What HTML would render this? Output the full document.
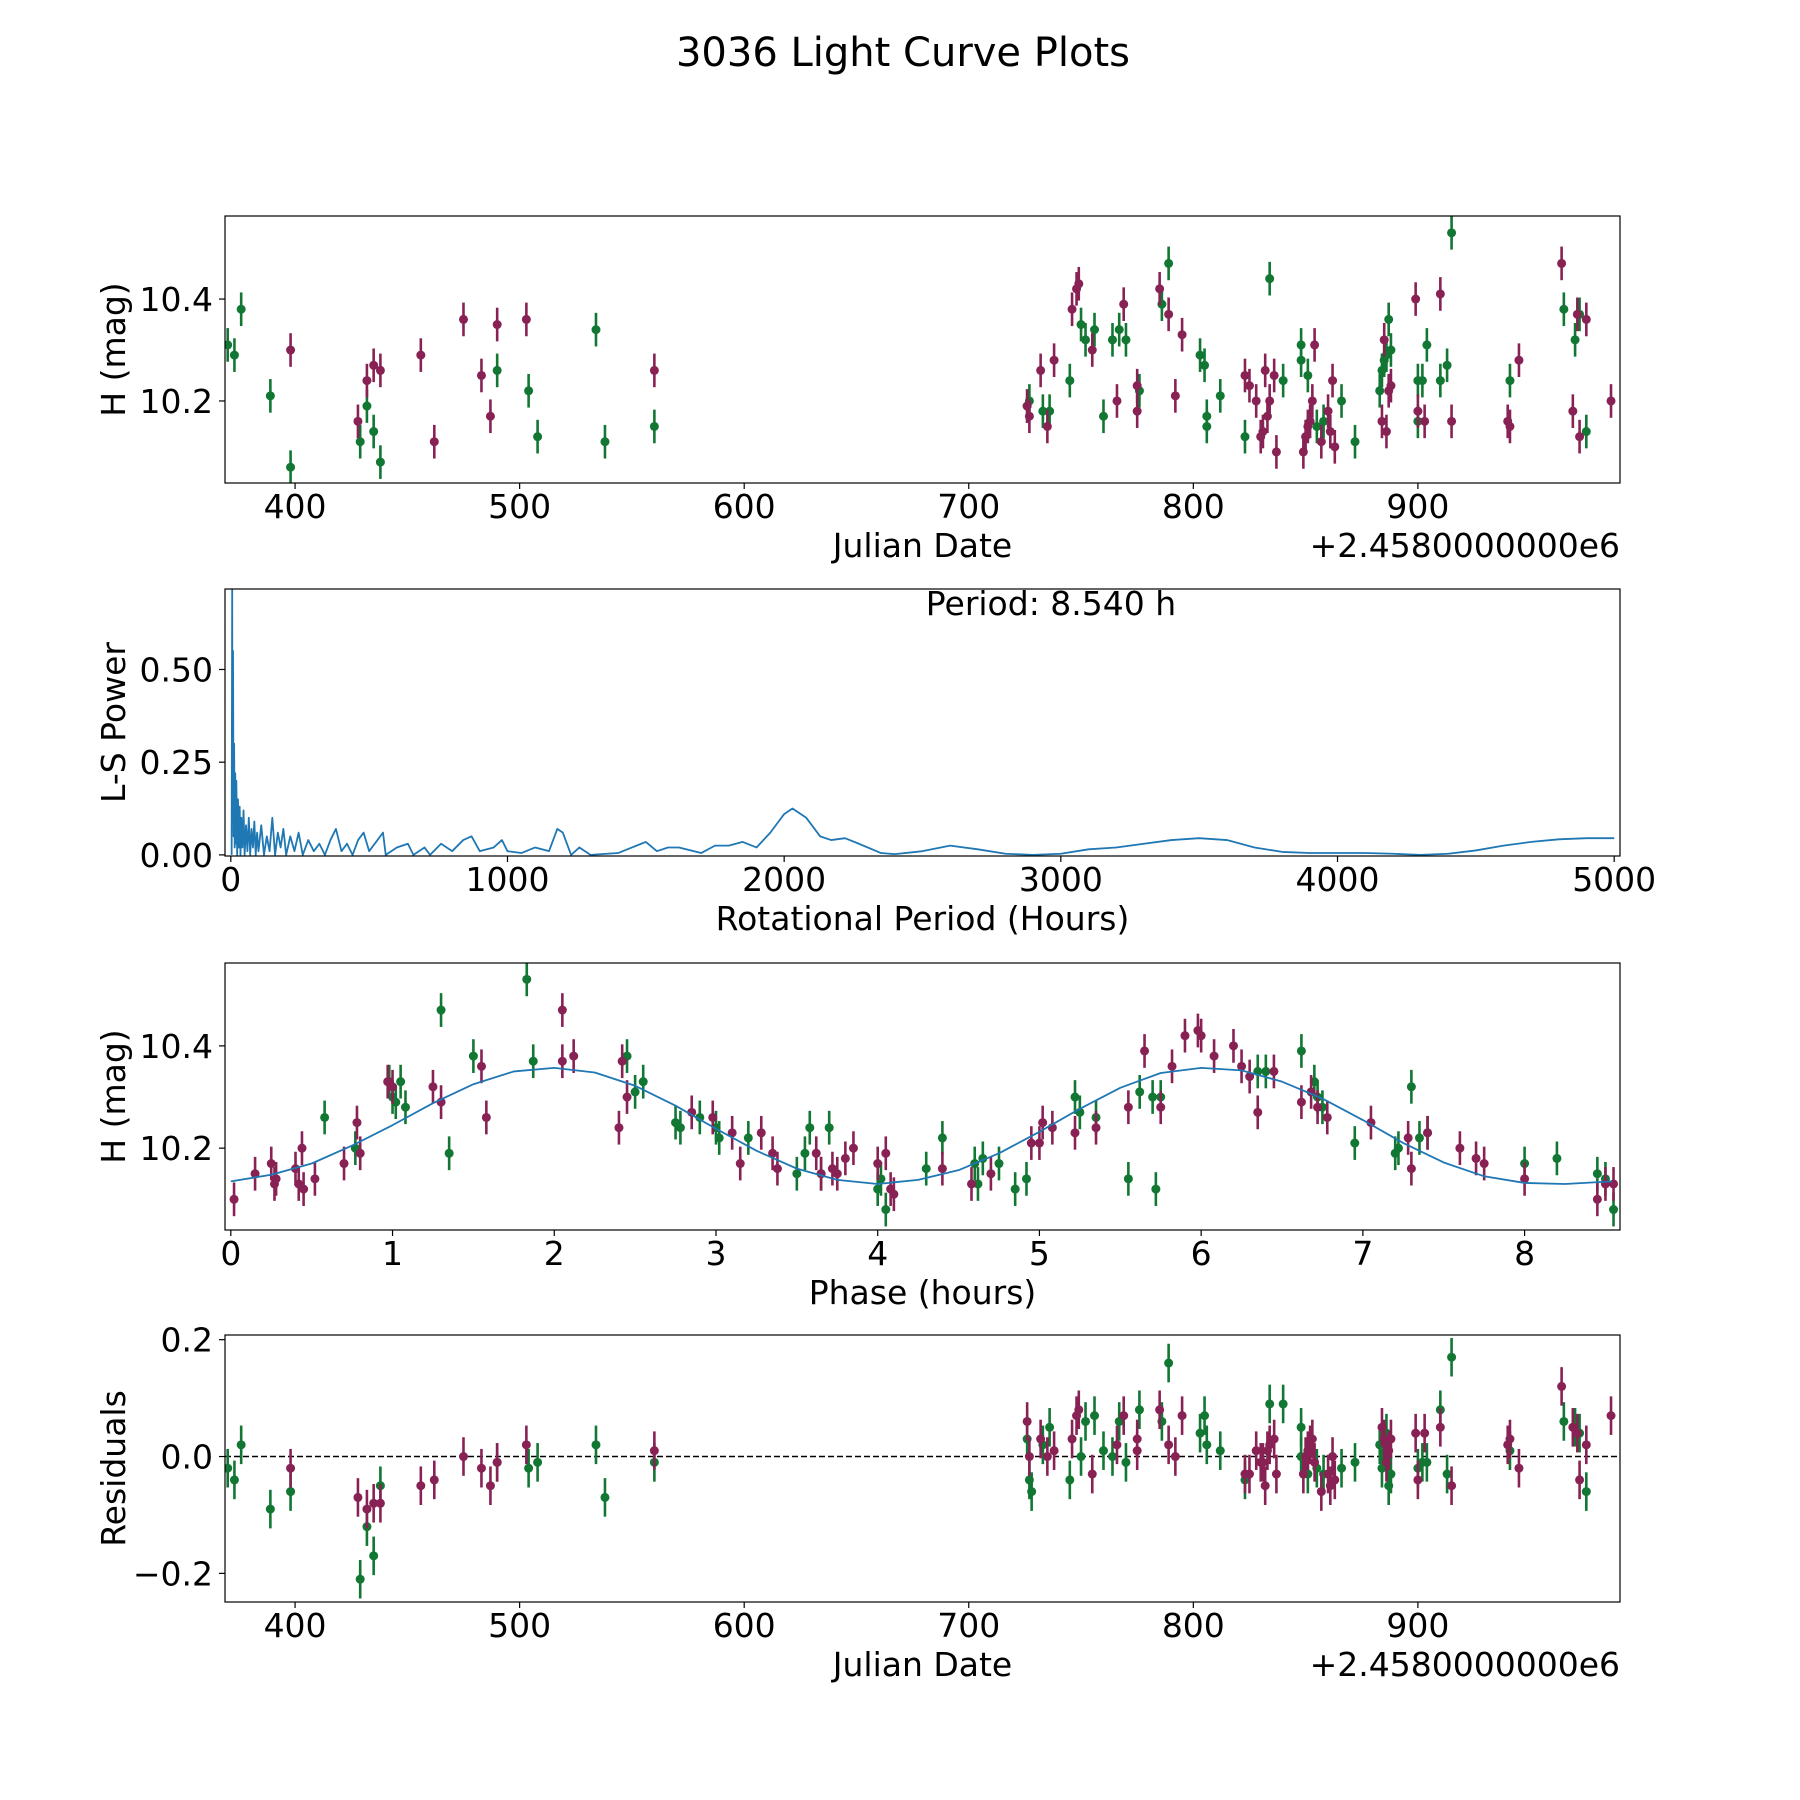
<!DOCTYPE html>
<html><head><meta charset="utf-8"><style>
html,body{margin:0;padding:0;background:#fff;}
svg{display:block;font-family:"DejaVu Sans","Liberation Sans",sans-serif;}
</style></head><body>
<svg id="fig" width="1800" height="1800" viewBox="0 0 1800 1800" xmlns="http://www.w3.org/2000/svg">
<text x="903" y="66" font-size="40" text-anchor="middle">3036 Light Curve Plots</text>
</svg>
<script>
// ---- data ----
const lcGreen = [[370,10.31],[373,10.29],[376,10.38],[389,10.21],[398,10.07],[429,10.12],[432,10.19],[435,10.14],[438,10.08],[490,10.26],[504,10.22],[508,10.13],[534,10.34],[538,10.12],[560,10.15],
[726,10.19],[727,10.20],[733,10.18],[736,10.18],[745,10.24],[750,10.35],[752,10.32],[756,10.34],[760,10.17],[764,10.32],[767,10.34],[770,10.32],[776,10.22],[786,10.39],[789,10.47],[803,10.29],[805,10.27],[806,10.15],[806,10.17],[812,10.21],[823,10.13],[834,10.44],[840,10.24],[848,10.28],[848,10.31],[851,10.25],[855,10.15],[858,10.16],[866,10.20],[872,10.12],[883,10.22],[884,10.26],[885,10.28],[886,10.29],[887,10.36],[888,10.30],[900,10.24],[900,10.16],[902,10.24],[904,10.31],[910,10.24],[913,10.27],[915,10.53],[941,10.24],[965,10.38],[970,10.32],[972,10.37],[975,10.14]];
const lcMagenta = [[398,10.30],[428,10.16],[432,10.24],[435,10.27],[438,10.26],[456,10.29],[462,10.12],[475,10.36],[483,10.25],[487,10.17],[490,10.35],[503,10.36],[560,10.26],
[726,10.19],[727,10.17],[732,10.26],[735,10.15],[738,10.28],[746,10.38],[748,10.42],[749,10.43],[755,10.30],[766,10.20],[769,10.39],[775,10.23],[775,10.18],[785,10.42],[789,10.37],[792,10.21],[795,10.33],[823,10.25],[825,10.23],[828,10.20],[830,10.13],[831,10.14],[832,10.26],[833,10.17],[834,10.20],[836,10.25],[837,10.10],[849,10.10],[850,10.13],[851,10.15],[852,10.16],[853,10.20],[854,10.31],[857,10.12],[860,10.18],[861,10.14],[862,10.24],[863,10.11],[884,10.16],[885,10.32],[886,10.14],[887,10.22],[888,10.23],[899,10.40],[900,10.18],[903,10.16],[910,10.41],[915,10.16],[940,10.16],[941,10.15],[945,10.28],[964,10.47],[969,10.18],[971,10.37],[972,10.13],[975,10.36],[986,10.20]];
const lsPeriods = [3,5,6,8,10,12,14,16,18,20,23,26,29,32,35,38,42,46,50,55,60,65,70,75,80,85,90,95,100,110,120,130,140,150,160,170,180,190,200,215,230,245,260,280,300,320,340,360,380,400,420,440,460,480,500,550,560,600,640,660,700,720,760,800,840,870,900,950,980,1000,1050,1100,1150,1180,1200,1230,1260,1300,1400,1450,1500,1540,1580,1620,1700,1750,1800,1850,1900,1950,2000,2030,2080,2130,2170,2220,2270,2350,2400,2500,2600,2700,2800,2900,3000,3100,3200,3300,3400,3500,3600,3700,3800,3900,4000,4100,4200,4300,4400,4500,4600,4700,4800,4900,5000];
const lsPower = [0,0.72,0.1,0.55,0.05,0.3,0.02,0.22,0.03,0.2,0.0,0.15,0.02,0.13,0.0,0.1,0.02,0.12,0.0,0.08,0.01,0.1,0.0,0.07,0.02,0.09,0.0,0.06,0.01,0.08,0.0,0.05,0.01,0.1,0.0,0.06,0.02,0.07,0.0,0.05,0.01,0.06,0.0,0.04,0.01,0.03,0.0,0.04,0.07,0.01,0.03,0.0,0.04,0.06,0.01,0.06,0.0,0.02,0.03,0.0,0.02,0.0,0.03,0.01,0.04,0.05,0.01,0.02,0.04,0.01,0.005,0.02,0.01,0.07,0.06,0.0,0.02,0.0,0.005,0.02,0.035,0.01,0.02,0.02,0.005,0.025,0.025,0.035,0.02,0.06,0.11,0.125,0.1,0.05,0.04,0.045,0.03,0.005,0.002,0.01,0.025,0.015,0.003,0.0,0.003,0.015,0.02,0.03,0.04,0.045,0.04,0.02,0.008,0.005,0.005,0.005,0.003,0.0,0.003,0.012,0.025,0.035,0.042,0.045,0.045];
const phGreen = [[0.58,10.26],[0.77,10.20],[0.98,10.33],[1.0,10.30],[1.02,10.29],[1.05,10.33],[1.08,10.28],[1.3,10.47],[1.35,10.19],[1.5,10.38],[1.83,10.53],[1.87,10.37],[2.45,10.38],[2.5,10.31],[2.55,10.33],[2.75,10.25],[2.78,10.24],[2.9,10.26],[3.0,10.24],[3.02,10.22],[3.2,10.22],[3.5,10.15],[3.55,10.19],[3.58,10.24],[3.65,10.15],[3.7,10.24],[4.0,10.12],[4.02,10.14],[4.05,10.08],[4.3,10.16],[4.4,10.22],[4.6,10.17],[4.62,10.13],[4.65,10.18],[4.75,10.17],[4.85,10.12],[4.92,10.14],[5.22,10.30],[5.25,10.27],[5.35,10.26],[5.55,10.14],[5.62,10.31],[5.72,10.12],[5.7,10.30],[5.75,10.30],[6.35,10.35],[6.4,10.35],[6.62,10.39],[6.7,10.33],[6.72,10.30],[6.75,10.28],[6.95,10.21],[7.2,10.19],[7.22,10.20],[7.3,10.32],[7.35,10.22],[7.4,10.23],[8.0,10.17],[8.2,10.18],[8.45,10.15],[8.5,10.14],[8.55,10.08]];
const phMagenta = [[0.02,10.10],[0.15,10.15],[0.25,10.17],[0.27,10.13],[0.28,10.14],[0.4,10.16],[0.42,10.13],[0.44,10.20],[0.45,10.12],[0.52,10.14],[0.7,10.17],[0.78,10.25],[0.8,10.19],[0.97,10.33],[1.0,10.32],[1.25,10.32],[1.3,10.29],[1.55,10.36],[1.58,10.26],[2.05,10.37],[2.05,10.47],[2.12,10.38],[2.4,10.24],[2.42,10.37],[2.45,10.30],[2.85,10.27],[2.98,10.26],[3.1,10.23],[3.15,10.17],[3.28,10.23],[3.35,10.19],[3.38,10.16],[3.62,10.19],[3.65,10.15],[3.72,10.16],[3.75,10.15],[3.8,10.18],[3.85,10.20],[4.0,10.17],[4.05,10.19],[4.08,10.12],[4.1,10.11],[4.4,10.16],[4.58,10.13],[4.7,10.15],[4.95,10.21],[5.0,10.21],[5.02,10.25],[5.08,10.24],[5.22,10.23],[5.35,10.24],[5.55,10.28],[5.65,10.39],[5.75,10.28],[5.82,10.36],[5.9,10.42],[5.98,10.43],[6.0,10.42],[6.08,10.38],[6.2,10.40],[6.25,10.36],[6.3,10.34],[6.35,10.27],[6.45,10.35],[6.62,10.29],[6.68,10.31],[6.72,10.28],[6.78,10.26],[7.05,10.25],[7.28,10.22],[7.3,10.16],[7.4,10.23],[7.6,10.20],[7.7,10.18],[7.75,10.17],[8.0,10.14],[8.45,10.10],[8.5,10.13],[8.55,10.13]];
const fitPhase = [0,0.25,0.5,0.75,1,1.25,1.5,1.75,2,2.25,2.5,2.75,3,3.25,3.5,3.75,4,4.25,4.5,4.75,5,5.25,5.5,5.75,6,6.25,6.5,6.75,7,7.25,7.5,7.75,8,8.25,8.54];
const fitMag = [10.135,10.148,10.17,10.205,10.245,10.288,10.325,10.35,10.357,10.348,10.322,10.283,10.238,10.195,10.16,10.138,10.13,10.138,10.157,10.19,10.232,10.277,10.318,10.347,10.357,10.352,10.33,10.297,10.255,10.21,10.172,10.145,10.132,10.13,10.135];
const resGreen = [[370,-0.02],[373,-0.04],[376,0.02],[389,-0.09],[398,-0.06],[429,-0.21],[432,-0.12],[435,-0.17],[438,-0.05],[490,-0.01],[504,-0.02],[508,-0.01],[534,0.02],[538,-0.07],[560,-0.01],[726,0.03],[727,-0.04],[728,-0.06],[733,0.02],[736,0.05],[745,-0.04],[750,0.00],[752,0.06],[756,0.07],[760,0.01],[764,0.00],[767,0.06],[770,-0.01],[776,0.08],[786,0.06],[789,0.16],[803,0.04],[805,0.07],[806,0.02],[812,0.01],[823,-0.04],[834,0.09],[840,0.09],[848,0.05],[848,0.00],[851,-0.03],[855,-0.02],[858,-0.03],[866,-0.02],[872,-0.01],[883,0.02],[884,-0.02],[885,0.02],[886,0.04],[887,-0.05],[888,-0.03],[900,-0.02],[902,-0.01],[904,-0.01],[910,0.08],[913,-0.03],[915,0.17],[941,0.01],[965,0.06],[970,0.05],[972,0.04],[975,-0.06]];
const resMagenta = [[398,-0.02],[428,-0.07],[432,-0.09],[435,-0.08],[438,-0.08],[456,-0.05],[462,-0.04],[475,0.00],[483,-0.02],[487,-0.05],[490,-0.01],[503,0.02],[560,0.01],[726,0.06],[727,0.00],[732,0.03],[735,0.00],[738,0.01],[746,0.03],[748,0.07],[749,0.08],[755,-0.03],[766,0.02],[769,0.07],[775,0.03],[775,0.01],[785,0.08],[789,0.02],[792,0.00],[795,0.07],[823,-0.03],[825,-0.03],[828,0.01],[830,-0.01],[831,-0.01],[832,-0.05],[833,0.01],[834,0.02],[836,0.03],[837,-0.03],[849,-0.03],[850,0.00],[851,0.01],[852,0.02],[853,0.03],[854,-0.01],[857,-0.06],[860,-0.03],[861,-0.05],[862,0.00],[863,-0.04],[884,0.05],[885,0.03],[886,-0.01],[887,0.01],[888,0.03],[899,0.04],[900,-0.04],[903,0.04],[910,0.05],[915,-0.05],[940,0.02],[941,0.03],[945,-0.02],[964,0.12],[969,0.05],[971,0.04],[972,-0.04],[975,0.02],[986,0.07]];
const jdTicks = [400,500,600,700,800,900];
const magTicks = [10.2,10.4];
const magTickLabels = ["10.2","10.4"];
const powTicks = [0,0.25,0.5];
const powTickLabels = ["0.00","0.25","0.50"];
const perTicks = [0,1000,2000,3000,4000,5000];
const phTicks = [0,1,2,3,4,5,6,7,8];
const resTicks = [-0.2,0,0.2];
const resTickLabels = ["\u22120.2","0.0","0.2"];

const NS="http://www.w3.org/2000/svg";
const svg=document.getElementById('fig');
const GREEN="#117733", MAG="#882255", ERR=0.033;
const L=225,R=1620,H=267,FS=33;
function el(tag,attrs,parent){const e=document.createElementNS(NS,tag);for(const k in attrs)e.setAttribute(k,attrs[k]);(parent||svg).appendChild(e);return e;}
function makeAxes(name,top,xmin,xmax,ymin,ymax){
  const g=el('g',{});
  
  
  const sx=v=>L+(v-xmin)/(xmax-xmin)*(R-L);
  const sy=v=>top+H-(v-ymin)/(ymax-ymin)*H;
  return {g,sx,sy,top};
}
function frame(ax){
  const r=el('rect',{x:L,y:ax.top,width:R-L,height:H,fill:'none',stroke:'#000','stroke-width':1.2},ax.g);
  
  
}
function xticks(ax,vals,labels){
  vals.forEach((v,i)=>{const x=ax.sx(v);
    el('line',{x1:x,x2:x,y1:ax.top+H,y2:ax.top+H+6,stroke:'#000','stroke-width':1.2},ax.g);
    const t=el('text',{x:x,y:ax.top+H+35,'font-size':FS,'text-anchor':'middle'},ax.g);t.textContent=labels?labels[i]:String(v);
    
    });
}
function yticks(ax,vals,labels){
  vals.forEach((v,i)=>{const y=ax.sy(v);
    el('line',{x1:L-6,x2:L,y1:y,y2:y,stroke:'#000','stroke-width':1.2},ax.g);
    const t=el('text',{x:L-12,y:y+12,'font-size':FS,'text-anchor':'end'},ax.g);t.textContent=labels[i];
    
    });
}
function xlabel(ax,txt,offset){
  const t=el('text',{x:(L+R)/2,y:ax.top+H+74,'font-size':FS,'text-anchor':'middle'},ax.g);t.textContent=txt;
  
  
  if(offset){const o=el('text',{x:R,y:ax.top+H+74,'font-size':FS,'text-anchor':'end'},ax.g);o.textContent='+2.4580000000e6';
    
    }
}
function ylabel(ax,txt){
  const cy=ax.top+H/2;
  const t=el('text',{x:0,y:0,'font-size':FS,'text-anchor':'middle',transform:`translate(125 ${cy}) rotate(-90)`},ax.g);t.textContent=txt;
  
  
}
function clip(ax,id){const cp=el('clipPath',{id:id},ax.g);el('rect',{x:L,y:ax.top,width:R-L,height:H},cp);return `url(#${id})`;}
function points(ax,data,color,cid,name){
  const pg=el('g',{'clip-path':cid},ax.g);
  
  
  data.forEach(d=>{const x=ax.sx(d[0]);
    el('line',{x1:x,x2:x,y1:ax.sy(d[1]-ERR),y2:ax.sy(d[1]+ERR),stroke:color,'stroke-width':2.6},pg);
    const c=el('circle',{cx:x,cy:ax.sy(d[1]),r:4.5,fill:color},pg);
    
    });
}
function line(ax,xs,ys,cid,name){
  const p=el('polyline',{points:xs.map((x,i)=>ax.sx(x)+','+ax.sy(ys[i])).join(' '),fill:'none',stroke:'#1f77b4','stroke-width':1.8,'stroke-linejoin':'round','clip-path':cid},ax.g);
  
  
}

// Panel 1
const a1=makeAxes('light-curve-panel',216,368.8,990,10.039,10.563);
const c1=clip(a1,'c1');
points(a1,lcGreen,GREEN,c1,'green-series');points(a1,lcMagenta,MAG,c1,'magenta-series');
frame(a1);xticks(a1,jdTicks);yticks(a1,magTicks,magTickLabels);xlabel(a1,'Julian Date',true);ylabel(a1,'H (mag)');

// Panel 2
const a2=makeAxes('periodogram-panel',589,-21,5021,-0.003,0.717);
const c2=clip(a2,'c2');
line(a2,lsPeriods,lsPower,c2,'ls-power-line');
frame(a2);xticks(a2,perTicks);yticks(a2,powTicks,powTickLabels);xlabel(a2,'Rotational Period (Hours)');ylabel(a2,'L-S Power');
const pt=el('text',{x:1051,y:615,'font-size':FS,'text-anchor':'middle'},a2.g);pt.textContent='Period: 8.540 h';



// Panel 3
const a3=makeAxes('phase-panel',963,-0.036,8.59,10.04,10.562);
const c3=clip(a3,'c3');
points(a3,phGreen,GREEN,c3,'green-phased-series');points(a3,phMagenta,MAG,c3,'magenta-phased-series');
line(a3,fitPhase,fitMag,c3,'fit-curve');
frame(a3);xticks(a3,phTicks);yticks(a3,magTicks,magTickLabels);xlabel(a3,'Phase (hours)');ylabel(a3,'H (mag)');

// Panel 4
const a4=makeAxes('residuals-panel',1335,368.8,990,-0.249,0.208);
const c4=clip(a4,'c4');
const zl=el('line',{x1:L,x2:R,y1:a4.sy(0),y2:a4.sy(0),stroke:'#000','stroke-width':1.5,'stroke-dasharray':'6,3'},a4.g);


points(a4,resGreen,GREEN,c4,'green-residuals');points(a4,resMagenta,MAG,c4,'magenta-residuals');
frame(a4);xticks(a4,jdTicks);yticks(a4,resTicks,resTickLabels);xlabel(a4,'Julian Date',true);ylabel(a4,'Residuals');
</script>
</body></html>
